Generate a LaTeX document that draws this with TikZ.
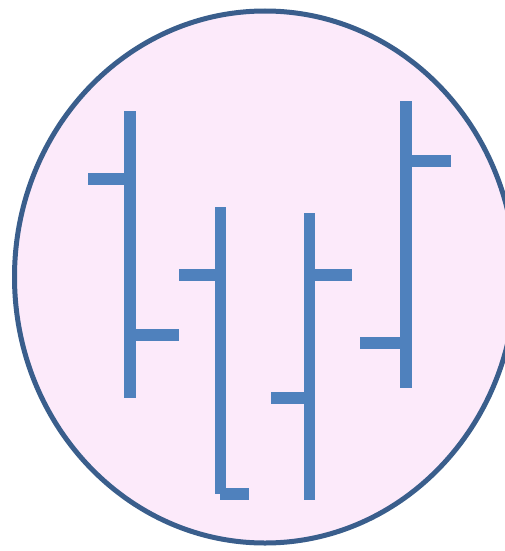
\documentclass[tikz,border=0pt]{standalone}
\definecolor{cellfill}{RGB}{252,234,250}
\definecolor{celledge}{RGB}{58,94,140}
\definecolor{barblue}{RGB}{79,129,189}
\begin{document}
\begin{tikzpicture}[x=1pt,y=-1pt,
  cell/.style={draw=celledge,fill=cellfill,line width=5pt},
  bar/.style={fill=barblue,draw=none}]
\useasboundingbox (0,0) rectangle (505,551);
\clip (0,0) rectangle (505,551);
\draw[cell] (265,277) ellipse [x radius=250.5, y radius=266];
% bar 1
\fill[bar] (124,111) rectangle (136,398);
\fill[bar] (88,173) rectangle (130,185);
\fill[bar] (130,329) rectangle (179,341);
% bar 2
\fill[bar] (215,207) rectangle (226,494);
\fill[bar] (179,269) rectangle (221,281);
\fill[bar] (220,488) rectangle (249,500);
% bar 3
\fill[bar] (304,213) rectangle (315,500);
\fill[bar] (310,269) rectangle (352,281);
\fill[bar] (271,392) rectangle (310,404);
% bar 4
\fill[bar] (400,101) rectangle (412,388);
\fill[bar] (406,155) rectangle (451,167);
\fill[bar] (360,337) rectangle (406,349);
\end{tikzpicture}
\end{document}
